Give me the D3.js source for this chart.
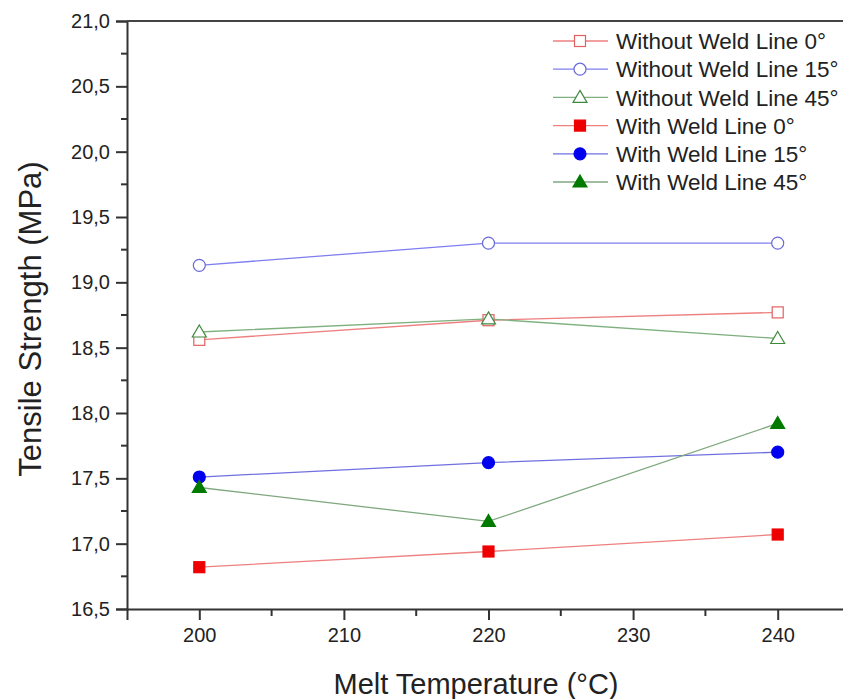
<!DOCTYPE html>
<html>
<head>
<meta charset="utf-8">
<script src="https://cdn.jsdelivr.net/npm/d3@7"></script>
<style>
  html, body { margin: 0; padding: 0; background: #fff; }
  svg { display: block; }
  text { font-family: "Liberation Sans", Arial, sans-serif; fill: #222; }
</style>
</head>
<body>
<script>
// Melt temperatures (°C)
const temperatures = [200, 220, 240];

// Tensile strength (MPa) per specimen type
const withoutWeld0 = [18.56, 18.71, 18.77];
const withoutWeld15 = [19.13, 19.30, 19.30];
const withoutWeld45 = [18.62, 18.72, 18.57];
const withWeld0 = [16.82, 16.94, 17.07];
const withWeld15 = [17.51, 17.62, 17.70];
const withWeld45 = [17.43, 17.17, 17.92];

const seriesNames = [
  "Without Weld Line 0°", "Without Weld Line 15°", "Without Weld Line 45°",
  "With Weld Line 0°", "With Weld Line 15°", "With Weld Line 45°"
];

const xTicks = [200, 210, 220, 230, 240];
const yTicks = [16.5, 17.0, 17.5, 18.0, 18.5, 19.0, 19.5, 20.0, 20.5, 21.0];

const series = [
  { name: seriesNames[0], values: withoutWeld0, shape: "square", filled: false, line: "#ee7f7f", mark: "#e06060" },
  { name: seriesNames[1], values: withoutWeld15, shape: "circle", filled: false, line: "#7f7ff0", mark: "#6a6ad8" },
  { name: seriesNames[2], values: withoutWeld45, shape: "triangle", filled: false, line: "#7fb07f", mark: "#3f8a3f" },
  { name: seriesNames[3], values: withWeld0, shape: "square", filled: true, line: "#ee8080", mark: "#ee0000" },
  { name: seriesNames[4], values: withWeld15, shape: "circle", filled: true, line: "#7070e0", mark: "#0000ee" },
  { name: seriesNames[5], values: withWeld45, shape: "triangle", filled: true, line: "#7fa87f", mark: "#007a00" }
];

const W = 843, H = 699;
const svg = d3.select("body").append("svg").attr("width", W).attr("height", H);

const x = d3.scaleLinear().domain([195, 245]).range([127, 850]);
const y = d3.scaleLinear().domain([16.5, 21.0]).range([609, 21]);

const fmt = v => d3.format(".1f")(v).replace(".", ",");

// Y axis with minor ticks
const yAxis = svg.append("g").attr("transform", `translate(${x(195)},0)`)
  .call(d3.axisLeft(y).tickValues(yTicks).tickFormat(fmt).tickSize(11).tickPadding(6));
yAxis.selectAll(".tick text").attr("font-size", 20);
yAxis.append("g").selectAll("line")
  .data(d3.range(16.75, 21.0, 0.5))
  .join("line")
  .attr("x1", 0).attr("x2", -6)
  .attr("y1", d => y(d)).attr("y2", d => y(d));

// X axis with minor ticks
const xAxis = svg.append("g").attr("transform", `translate(0,${y(16.5)})`)
  .call(d3.axisBottom(x).tickValues(xTicks).tickSize(11).tickPadding(8));
xAxis.selectAll(".tick text").attr("font-size", 20);
xAxis.append("g").selectAll("line")
  .data([205, 215, 225, 235])
  .join("line")
  .attr("x1", d => x(d)).attr("x2", d => x(d))
  .attr("y1", 0).attr("y2", 7);

[xAxis, yAxis].forEach(a => {
  a.select(".domain").attr("stroke", "#333").attr("stroke-width", 2);
  a.selectAll("line").attr("stroke", "#333").attr("stroke-width", 2);
  a.selectAll("text").style("fill", "#222");
});

// Top frame line
svg.append("line")
  .attr("x1", x(195)).attr("x2", W)
  .attr("y1", y(21.0)).attr("y2", y(21.0))
  .attr("stroke", "#444").attr("stroke-width", 2);

// Axis titles
svg.append("text")
  .attr("x", 476).attr("y", 694)
  .attr("text-anchor", "middle").attr("font-size", 29)
  .text("Melt Temperature (°C)");
svg.append("text")
  .attr("transform", `translate(41,${319}) rotate(-90)`)
  .attr("text-anchor", "middle").attr("font-size", 31)
  .text("Tensile Strength (MPa)");

function drawMarker(g, s, cx, cy) {
  const fill = s.filled ? s.mark : "#fff";
  if (s.shape === "square") {
    g.append("rect").attr("x", cx - 5.5).attr("y", cy - 5.5).attr("width", 11).attr("height", 11)
      .attr("fill", fill).attr("stroke", s.mark).attr("stroke-width", 1.2);
  } else if (s.shape === "circle") {
    g.append("circle").attr("cx", cx).attr("cy", cy).attr("r", 6)
      .attr("fill", fill).attr("stroke", s.mark).attr("stroke-width", 1.2);
  } else {
    g.append("path")
      .attr("d", `M${cx},${cy - 7}L${cx + 7},${cy + 5}L${cx - 7},${cy + 5}Z`)
      .attr("fill", fill).attr("stroke", s.mark).attr("stroke-width", 1.2);
  }
}

const line = d3.line().x((d, i) => x(temperatures[i])).y(d => y(d));
const plot = svg.append("g");
series.forEach(s => {
  plot.append("path").datum(s.values)
    .attr("d", line).attr("fill", "none")
    .attr("stroke", s.line).attr("stroke-width", 1.3);
});
series.forEach(s => {
  const g = plot.append("g");
  s.values.forEach((v, i) => drawMarker(g, s, x(temperatures[i]), y(v)));
});

// Legend
const legend = svg.append("g");
series.forEach((s, i) => {
  const ly = 41 + i * 28.2;
  const g = legend.append("g");
  g.append("line").attr("x1", 553).attr("x2", 608).attr("y1", ly).attr("y2", ly)
    .attr("stroke", s.line).attr("stroke-width", 1.3);
  drawMarker(g, s, 580, ly);
  g.append("text").attr("x", 616).attr("y", ly).attr("dy", "0.36em")
    .attr("font-size", 22.5).text(s.name);
});
</script>
</body>
</html>
